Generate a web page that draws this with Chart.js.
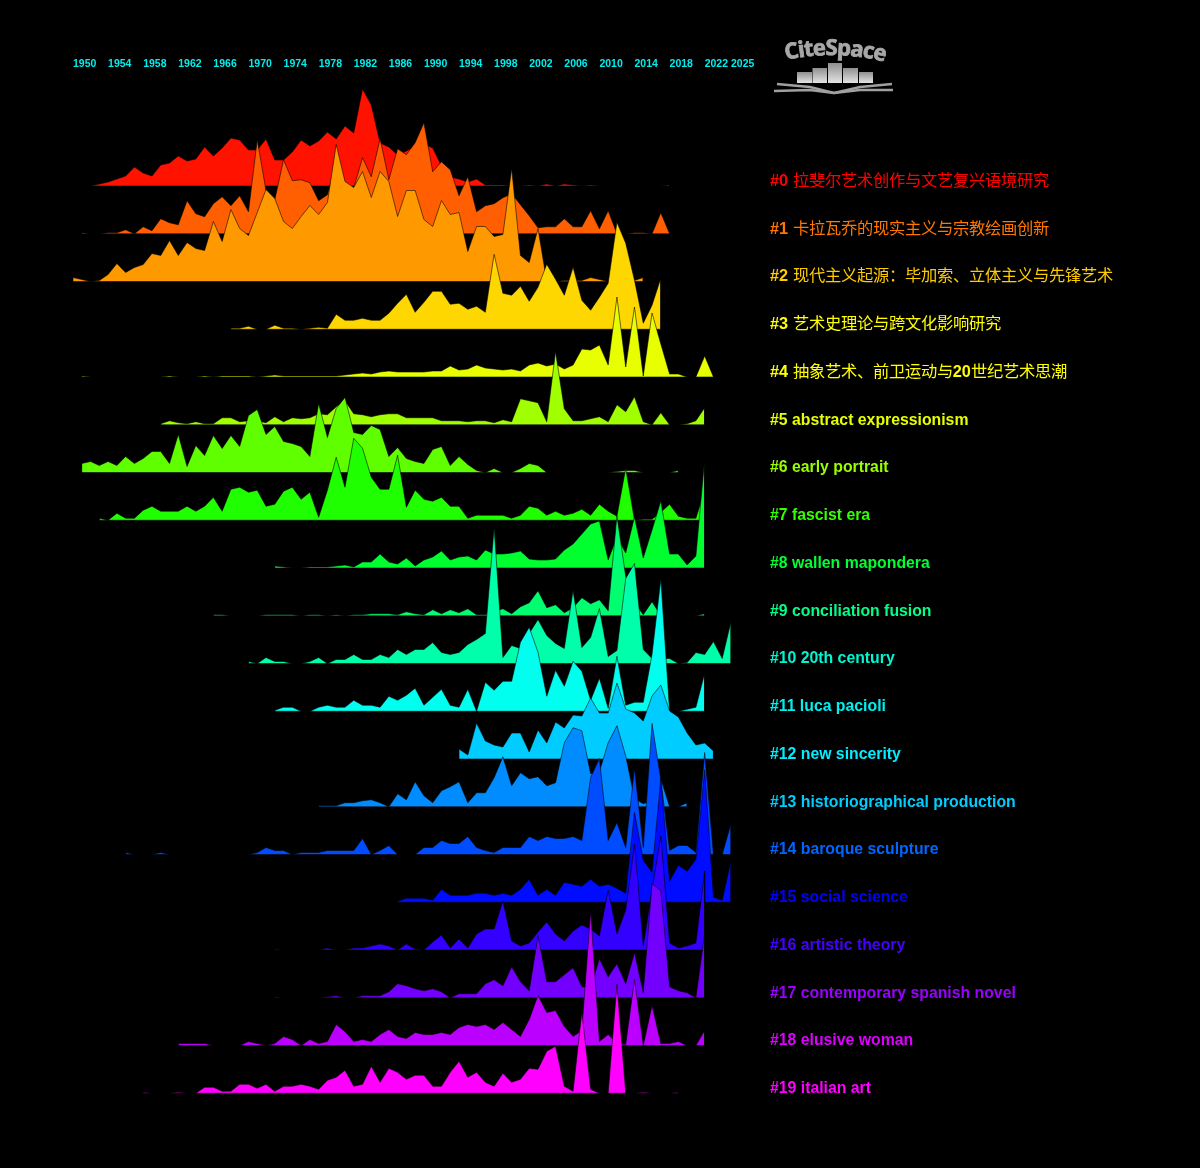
<!DOCTYPE html>
<html>
<head>
<meta charset="utf-8">
<title>CiteSpace timeline</title>
<script src="https://cdn.jsdelivr.net/npm/chart.js@4"></script>
<style>
/* chinese in the labels is not bold in the original, latin is */
@font-face {
    font-family: "label cjk";
    src: local("Noto Sans CJK SC"), local("Noto Sans CJK SC Regular");
    font-weight: 700;
    unicode-range: U+3000-303F, U+4E00-9FFF, U+FF00-FFEF;
}
html, body { margin: 0; padding: 0; background: #000; }
#wrap { position: relative; width: 1200px; height: 1168px; }
#logo { position: absolute; left: 760px; top: 30px; }
</style>
</head>
<body>
<div id="wrap">
<canvas id="ridges" width="1200" height="1168"></canvas>
<svg id="logo" width="150" height="75" viewBox="0 0 150 75">
  <defs>
    <linearGradient id="bar" x1="0" y1="0" x2="0" y2="1">
      <stop offset="0" stop-color="#8f8f8f"/>
      <stop offset="1" stop-color="#e4e4e4"/>
    </linearGradient>
    <path id="arc" d="M26 30 Q75 19 126 32"/>
  </defs>
  <text font-family="'Open Sans','DejaVu Sans',sans-serif" font-weight="700" font-size="22" fill="#a8a8a8" stroke="#a8a8a8" stroke-width="0.8">
    <textPath href="#arc" textLength="100">CiteSpace</textPath>
  </text>
  <rect x="37" y="42" width="15" height="11" fill="url(#bar)"/>
  <rect x="52.5" y="38" width="14.5" height="15" fill="url(#bar)"/>
  <rect x="68" y="33" width="14" height="20" fill="url(#bar)"/>
  <rect x="83" y="38" width="15" height="15" fill="url(#bar)"/>
  <rect x="99" y="42" width="14" height="11" fill="url(#bar)"/>
  <path d="M17 54 L50 57 L74 63 L100 57 L132 54" fill="none" stroke="#a0a0a0" stroke-width="2.4"/>
  <path d="M14 61 L50 60 L74 63 L100 60 L133 60" fill="none" stroke="#a0a0a0" stroke-width="2.4"/>
</svg>
</div>
<script>
// years shown along the top
var tick_years = [1950, 1954, 1958, 1962, 1966, 1970, 1974, 1978, 1982, 1986, 1990, 1994, 1998, 2002, 2006, 2010, 2014, 2018, 2022, 2025];

var cluster_names = [
    '#0 拉斐尔艺术创作与文艺复兴语境研究',
    '#1 卡拉瓦乔的现实主义与宗教绘画创新',
    '#2 现代主义起源：毕加索、立体主义与先锋艺术',
    '#3 艺术史理论与跨文化影响研究',
    '#4 抽象艺术、前卫运动与20世纪艺术思潮',
    '#5 abstract expressionism',
    '#6 early portrait',
    '#7 fascist era',
    '#8 wallen mapondera',
    '#9 conciliation fusion',
    '#10 20th century',
    '#11 luca pacioli',
    '#12 new sincerity',
    '#13 historiographical production',
    '#14 baroque sculpture',
    '#15 social science',
    '#16 artistic theory',
    '#17 contemporary spanish novel',
    '#18 elusive woman',
    '#19 italian art'
];

// first year of every cluster, its values run year by year from there
var start_years = [1952, 1951, 1950, 1968, 1951, 1960, 1951, 1953, 1973, 1966, 1970, 1973, 1994, 1978, 1956, 1987, 1973, 1973, 1962, 1958];

var c0 = [0,2,4,7,10,19,13,10,
    21,23,30,25,27,39,30,38,48,46,
    36,36,47,26,26,34,46,40,45,54,
    47,60,53,97,81,43,39,31,35,40,
    42,38,20,9,7,4,7,1,1,1,
    0,0,1,0,2,0,2,1,0,1,
    0,0,0,0,0,0,0,0,1];
var c1 = [1,0,0,1,1,4,0,7,3,
    15,11,9,33,20,17,30,37,28,38,
    22,94,43,34,74,53,54,51,33,39,
    70,50,46,76,57,95,54,85,79,91,
    111,62,72,64,38,57,22,28,30,36,
    40,29,18,6,7,7,15,7,7,23,
    5,23,0,0,1,1,0,21,0];
var c2 = [4,2,0,1,7,18,9,14,17,28,
    26,41,26,39,33,31,60,40,72,53,
    46,69,92,83,60,53,65,76,67,79,
    137,100,94,110,84,110,100,65,91,91,
    62,55,81,67,69,30,55,55,45,47,
    113,26,19,53,0,0,1,1,1,4,
    2,0,0,0,1,4];
var c3 = [1,1,
    3,0,0,4,1,1,0,1,2,1,
    15,9,9,11,9,9,16,26,35,17,
    27,38,38,25,26,20,23,17,75,36,
    34,43,28,42,65,50,34,62,29,19,
    32,46,107,86,49,6,24,51];
var c4 = [1,0,0,0,0,0,0,0,0,
    0,1,0,0,0,1,0,1,1,1,
    1,0,1,2,1,1,1,1,1,1,
    1,2,3,4,3,5,6,5,5,5,
    5,6,6,11,7,8,12,9,8,7,
    8,6,12,14,11,13,8,12,28,27,
    32,12,80,10,70,1,64,33,3,3,
    0,0,21,0];
var c5 = [1,4,2,1,3,1,1,7,7,3,
    4,4,2,8,3,7,6,7,11,10,
    18,24,11,10,8,10,11,11,7,7,
    7,7,4,4,4,3,4,4,2,5,
    3,26,24,22,3,73,16,4,4,6,
    8,3,20,13,28,3,0,12,0,0,
    1,4,17];
var c6 = [9,11,7,11,7,16,9,14,21,
    21,9,38,6,27,17,37,24,37,26,
    57,63,38,46,31,29,26,16,69,35,
    64,75,40,38,47,43,16,25,14,11,
    9,23,26,7,16,8,2,0,4,0,
    0,4,9,7,0,0,0,0,0,0,
    0,0,1,2,2,0,0,0,0,2];
var c7 = [2,0,7,2,2,10,14,
    9,9,9,14,9,14,23,9,31,33,
    28,30,14,16,29,33,21,28,3,30,
    63,33,82,72,43,31,31,65,13,30,
    21,19,23,14,14,2,5,5,5,5,
    2,5,14,12,5,9,5,7,11,5,
    16,9,4,52,0,1,1,8,16,4,
    2,2,30];
var c8 = [2,1,0,0,1,1,1,
    2,3,1,6,6,14,6,4,10,2,
    8,11,17,8,11,12,8,18,14,14,
    15,17,9,8,8,9,18,24,34,44,
    47,8,31,15,51,10,38,67,14,14,
    3,12,109];
var c9 = [1,1,0,0,
    0,0,1,1,1,1,0,1,1,0,
    1,0,1,1,2,2,2,1,4,2,
    1,6,2,6,3,7,1,1,4,7,
    2,9,13,25,8,11,3,8,18,12,
    16,5,100,39,13,1,14,0,0,0,
    0,0,2];
var c10 = [2,0,6,2,2,0,0,2,6,0,
    4,4,9,4,4,9,6,14,9,14,
    14,21,11,9,11,19,24,30,136,6,
    18,15,30,44,28,20,15,73,16,26,
    55,7,13,85,100,14,5,5,5,0,
    1,11,9,22,5,42];
var c11 = [1,4,4,0,0,4,6,
    4,4,11,6,6,4,15,11,16,23,
    6,14,22,6,4,22,0,29,21,30,
    30,69,84,59,15,41,25,50,40,11,
    33,3,55,6,9,9,57,132,0,0,
    2,4,38];
var c12 = [10,4,36,18,14,12,
    26,26,7,29,16,37,31,44,43,61,
    46,46,76,50,46,38,63,74,48,42,
    26,14,16,8];
var c13 = [1,1,
    1,4,4,6,7,4,0,13,7,25,
    11,4,16,20,25,4,14,14,29,50,
    21,34,28,30,21,24,64,79,76,33,
    35,64,81,51,8,3,6,28,0,0,
    4];
var c14 = [2,0,0,0,
    2,0,0,0,0,0,0,0,0,0,
    0,2,7,4,4,0,2,2,2,4,
    4,4,4,16,0,4,9,0,0,0,
    7,7,14,11,11,18,7,4,2,7,
    7,7,18,14,18,16,16,18,14,77,
    96,14,32,7,86,7,131,75,4,9,
    9,2,102,0,0,31];
var c15 = [1,4,4,
    4,2,13,7,7,7,9,9,7,9,
    7,13,23,7,13,7,20,18,16,23,
    16,18,14,9,90,42,30,124,21,37,
    31,43,132,5,2,42];
var c16 = [1,0,0,0,0,0,2,
    0,0,2,2,4,6,4,0,6,1,
    0,8,15,2,11,2,16,21,21,49,
    9,4,7,18,28,16,9,19,25,21,
    14,60,16,40,106,4,60,114,7,2,
    4,7,79];
var c17 = [1,0,0,0,0,0,1,
    2,0,0,2,2,2,6,14,12,9,
    7,9,6,0,4,4,4,14,18,12,
    31,16,7,62,16,16,23,30,11,10,
    39,21,34,14,45,5,114,107,11,7,
    5,0,64];
var c18 = [2,2,2,2,0,0,0,0,
    4,2,0,2,9,6,0,6,2,4,
    21,14,4,6,4,11,16,9,7,13,
    11,11,13,11,18,21,19,21,16,23,
    16,9,26,50,33,35,19,9,15,134,
    4,11,2,1,66,0,40,2,2,4,
    0,0,15];
var c19 = [1,0,
    0,0,1,0,0,6,6,2,2,9,
    9,5,9,2,7,7,9,7,4,13,
    16,23,7,9,27,11,25,21,14,18,
    18,7,7,21,32,16,21,11,7,20,
    11,14,25,24,42,47,7,2,81,4,
    0,0,109,0,0,1,0,0,0,1];

var cluster_values = [c0, c1, c2, c3, c4, c5, c6, c7, c8, c9, c10, c11, c12, c13, c14, c15, c16, c17, c18, c19];

var fill_colors = ['#ff1200', '#ff5f00', '#ff9900', '#ffd700', '#e8ff00', '#a0ff00', '#60ff00', '#1fff00', '#00ff2f', '#00ff70',
    '#00ffaa', '#00ffee', '#00ccff', '#008cff', '#004cff', '#000cff', '#3300ff', '#7300ff', '#bb00ff', '#ff00ff'];
var label_colors = ['#ff0000', '#ff7700', '#ffcc00', '#ffff00', '#ffff00', '#e6ff00', '#99ff00', '#33ff00', '#00ff33', '#00ff88',
    '#00f5d0', '#00f0f0', '#00eeff', '#00ccff', '#0066ff', '#0000ff', '#4400ff', '#9900ff', '#dd00ff', '#ff00ff'];

var row_gap = 47.75;

function make_datasets() {
    var datasets = [];
    for (var i = 0; i < cluster_values.length; i++) {
        var base = -i * row_gap;
        var tops = cluster_values[i].map(function (v, k) {
            return {x: start_years[i] + k, y: base + v};
        });
        var first = tops[0].x;
        var last = tops[tops.length - 1].x;
        // later clusters lie over earlier ones, chart.js draws high order first
        datasets.push({
            data: tops,
            order: (cluster_values.length - i) * 2,
            backgroundColor: fill_colors[i],
            borderWidth: 0,
            fill: {value: base},
            clip: false
        });
        // black outline round the whole shape
        datasets.push({
            data: [{x: first, y: base}].concat(tops, [{x: last, y: base}, {x: first, y: base}]),
            order: (cluster_values.length - i) * 2 - 1,
            borderColor: 'rgba(0,0,0,0.7)',
            borderWidth: 0.8,
            fill: false,
            clip: false
        });
    }
    return datasets;
}

function draw_chart() {
    new Chart(document.getElementById('ridges'), {
        type: 'line',
        data: {datasets: make_datasets()},
        options: {
            responsive: false,
            animation: false,
            events: [],
            layout: {padding: {left: 73}},
            elements: {point: {radius: 0}, line: {tension: 0}},
            plugins: {legend: {display: false}, tooltip: {enabled: false}},
            scales: {
                x: {
                    type: 'linear',
                    position: 'top',
                    min: 1950,
                    max: 2025,
                    grid: {display: false, drawTicks: false},
                    border: {display: false},
                    afterBuildTicks: function (scale) {
                        scale.ticks = tick_years.map(function (y) { return {value: y}; });
                    },
                    afterFit: function (scale) { scale.height = 69; },
                    ticks: {
                        autoSkip: false,
                        maxRotation: 0,
                        align: 'start',
                        padding: -1,
                        color: '#00eeee',
                        font: {family: '"Liberation Sans"', size: 10.5, weight: 'bold'},
                        callback: function (v) { return String(v); }
                    }
                },
                y: {
                    display: false,
                    min: -982,
                    max: 117
                },
                names: {
                    type: 'linear',
                    position: 'right',
                    min: -982,
                    max: 117,
                    grid: {display: false, drawTicks: false},
                    border: {display: false},
                    afterBuildTicks: function (scale) {
                        scale.ticks = cluster_names.map(function (n, i) { return {value: -i * row_gap + 4.5}; });
                    },
                    afterFit: function (scale) {
                        scale.width = 469;
                        scale.paddingTop = 0;
                        scale.paddingBottom = 0;
                    },
                    ticks: {
                        autoSkip: false,
                        padding: 39,
                        font: function (ctx) {
                            return {
                                family: '"label cjk","Liberation Sans","Noto Sans CJK SC"',
                                size: ctx.index < 5 ? 16.3 : 15.8,
                                weight: 'bold'
                            };
                        },
                        color: function (ctx) { return label_colors[ctx.index]; },
                        callback: function (v, i) { return cluster_names[i]; }
                    }
                }
            }
        }
    });
}

// the local face for the chinese labels has to be ready before the canvas text is drawn
document.fonts.load('bold 16px "label cjk"', '拉斐尔').then(draw_chart, draw_chart);
</script>
</body>
</html>
